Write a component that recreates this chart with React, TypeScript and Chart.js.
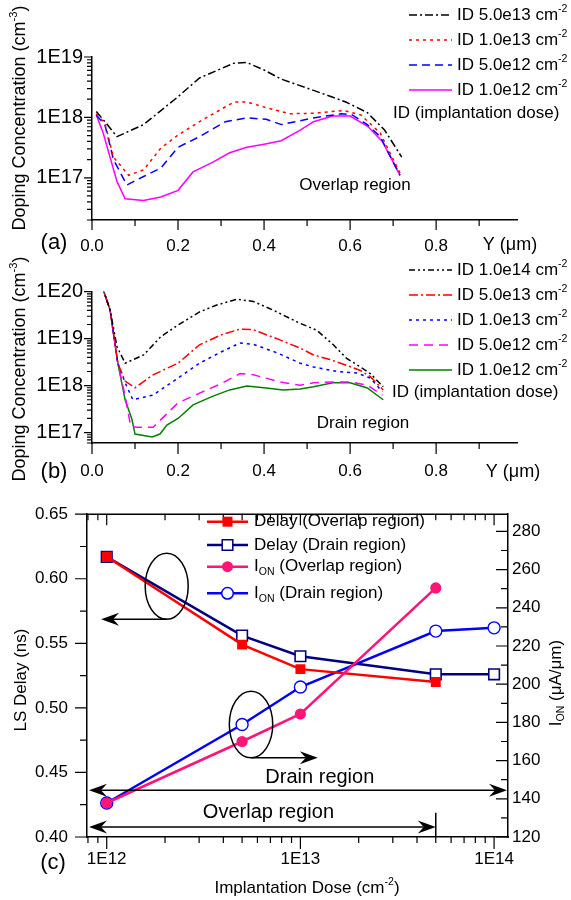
import React, { useEffect, useRef } from 'react';
import { Chart, registerables } from 'chart.js';

Chart.register(...registerables);

const FONT = '"Liberation Sans", Arial, Helvetica, sans-serif';

type Pt = [number, number];
type Part = { t: string; s?: 'sup' | 'sub' };
type Tk = { v: number; major: boolean };

// ---------------- Panel (a): overlap region doping profiles ----------------
const aNames = ['ID 5.0e13 cm', 'ID 1.0e13 cm', 'ID 5.0e12 cm', 'ID 1.0e12 cm'];
const aOverlap5e13: Pt[] = [
  [0.01, 1.25e18], [0.03, 8.5e17], [0.058, 4.8e17], [0.12, 7.6e17], [0.2, 2.2e18], [0.25, 4.5e18],
  [0.33, 7.9e18], [0.36, 8.1e18], [0.4, 6.1e18], [0.44, 4.3e18], [0.515, 2.8e18], [0.59, 1.8e18],
  [0.64, 1.2e18], [0.68, 6.2e17], [0.72, 2.2e17],
];
const aOverlap1e13: Pt[] = [
  [0.01, 1.15e18], [0.03, 7.9e17], [0.05, 2.2e17], [0.085, 1.1e17], [0.12, 1.35e17], [0.16, 3.1e17],
  [0.2, 5.1e17], [0.25, 8.5e17], [0.33, 1.8e18], [0.36, 1.8e18], [0.405, 1.45e18], [0.46, 1.15e18],
  [0.515, 1.17e18], [0.585, 1.3e18], [0.625, 1.1e18], [0.67, 5.5e17], [0.716, 1.2e17],
];
const aOverlap5e12: Pt[] = [
  [0.01, 1.1e18], [0.03, 7.5e17], [0.05, 2.0e17], [0.081, 7.6e16], [0.12, 1.05e17], [0.16, 1.45e17],
  [0.2, 3.2e17], [0.25, 4.8e17], [0.31, 8.5e17], [0.36, 9.8e17], [0.405, 9.3e17], [0.44, 7.6e17],
  [0.515, 9.8e17], [0.58, 1.15e18], [0.605, 1.1e18], [0.64, 7.6e17], [0.67, 4.8e17], [0.716, 1.1e17],
];
const aOverlap1e12: Pt[] = [
  [0.01, 1.1e18], [0.026, 5.5e17], [0.058, 8.7e16], [0.077, 4.5e16], [0.12, 4.2e16], [0.16, 4.8e16],
  [0.2, 6.2e16], [0.235, 1.25e17], [0.28, 1.8e17], [0.32, 2.6e17], [0.36, 3.2e17], [0.4, 3.6e17],
  [0.44, 4.1e17], [0.485, 6.2e17], [0.515, 8.5e17], [0.56, 1.05e18], [0.6, 1.05e18], [0.64, 7.2e17],
  [0.675, 4.0e17], [0.716, 1.1e17],
];
const aSeries = [aOverlap5e13, aOverlap1e13, aOverlap5e12, aOverlap1e12];
const aColors = ['#000000', '#FF0000', '#0000FF', '#FF00FF'];
const aDashes = [[8, 3, 2, 3], [3, 4], [8, 5], []];

// ---------------- Panel (b): drain region doping profiles ----------------
const bNames = ['ID 1.0e14 cm', 'ID 5.0e13 cm', 'ID 1.0e13 cm', 'ID 5.0e12 cm', 'ID 1.0e12 cm'];
const bDrain1e14: Pt[] = [
  [0.02, 1.6e20], [0.042, 4.1e19], [0.058, 6.8e18], [0.077, 3.0e18], [0.12, 4.5e18], [0.16, 1.1e19],
  [0.2, 1.95e19], [0.25, 3.7e19], [0.29, 5.2e19], [0.337, 6.9e19], [0.375, 6.2e19], [0.42, 4.1e19],
  [0.48, 2.2e19], [0.523, 1.5e19], [0.561, 7.4e18], [0.592, 3.8e18], [0.624, 2.5e18], [0.647, 1.8e18],
  [0.677, 9.5e17],
];
const bDrain5e13: Pt[] = [
  [0.02, 1.6e20], [0.042, 4.1e19], [0.06, 3.0e18], [0.077, 1.25e18], [0.1, 9.0e17], [0.142, 1.7e18],
  [0.2, 3.0e18], [0.25, 7.4e18], [0.3, 1.2e19], [0.344, 1.6e19], [0.375, 1.55e19], [0.437, 9.4e18],
  [0.484, 6.3e18], [0.515, 4.5e18], [0.553, 3.6e18], [0.592, 2.7e18], [0.624, 2.1e18], [0.647, 1.55e18],
  [0.677, 8.1e17],
];
const bDrain1e13: Pt[] = [
  [0.02, 1.6e20], [0.042, 4.1e19], [0.06, 3.0e18], [0.077, 1.15e18], [0.095, 5.0e17], [0.142, 6.3e17],
  [0.2, 1.45e18], [0.25, 3.0e18], [0.3, 5.2e18], [0.344, 8.1e18], [0.375, 7.6e18], [0.43, 5.0e18],
  [0.484, 3.0e18], [0.515, 2.5e18], [0.57, 2.0e18], [0.616, 1.85e18], [0.647, 1.45e18], [0.675, 7.4e17],
];
const bDrain5e12: Pt[] = [
  [0.02, 1.6e20], [0.042, 4.1e19], [0.06, 3.0e18], [0.077, 6.0e17], [0.09, 1.35e17], [0.104, 1.3e17],
  [0.142, 1.3e17], [0.2, 4.3e17], [0.25, 6.9e17], [0.3, 1.1e18], [0.344, 1.8e18], [0.375, 1.7e18],
  [0.437, 1.2e18], [0.484, 1.02e18], [0.515, 1.15e18], [0.57, 1.2e18], [0.6, 1.2e18], [0.64, 1.02e18],
  [0.675, 6.3e17],
];
const bDrain1e12: Pt[] = [
  [0.02, 1.6e20], [0.042, 4.1e19], [0.06, 3.0e18], [0.077, 5.0e17], [0.093, 1.9e17], [0.1, 9.3e16],
  [0.14, 8.1e16], [0.158, 9.3e16], [0.174, 1.45e17], [0.2, 2.0e17], [0.235, 3.9e17], [0.28, 5.9e17],
  [0.32, 8.1e17], [0.36, 9.8e17], [0.405, 8.9e17], [0.444, 8.1e17], [0.484, 8.5e17], [0.515, 9.5e17],
  [0.56, 1.15e18], [0.6, 1.15e18], [0.64, 8.9e17], [0.677, 5.0e17],
];
const bSeries = [bDrain1e14, bDrain5e13, bDrain1e13, bDrain5e12, bDrain1e12];
const bColors = ['#000000', '#FF0000', '#0000FF', '#FF00FF', '#008000'];
const bDashes = [[6, 3, 2, 3, 2, 3], [9, 3, 2, 3], [3, 4], [9, 6], []];

// ---------------- Panel (c): LS delay and I_ON vs implantation dose ----------------
const doseOverlap = [1e12, 5e12, 1e13, 5e13];
const doseDrain = [1e12, 5e12, 1e13, 5e13, 1e14];
const delayOverlap = [0.617, 0.549, 0.530, 0.520];
const delayDrain = [0.617, 0.556, 0.540, 0.526, 0.526];
const ionOverlap = [137.8, 170.0, 184.4, 250.4];
const ionDrain = [137.8, 178.9, 198.5, 227.8, 229.5];
const cColors = { delayOverlap: '#FF0000', delayDrain: '#000080', ionOverlap: '#FF1478', ionDrain: '#0000FF' };

// ---------------- helpers ----------------
function drawRich(ctx: CanvasRenderingContext2D, parts: Part[], x: number, y: number, size: number, align: 'left' | 'center' | 'right' = 'left') {
  const small = size * 0.62;
  const widths = parts.map((p) => {
    ctx.font = `${p.s ? small : size}px ${FONT}`;
    return ctx.measureText(p.t).width;
  });
  const total = widths.reduce((a, b) => a + b, 0);
  let cx = align === 'left' ? x : align === 'center' ? x - total / 2 : x - total;
  ctx.textAlign = 'left';
  ctx.textBaseline = 'middle';
  parts.forEach((p, i) => {
    ctx.font = `${p.s ? small : size}px ${FONT}`;
    const dy = p.s === 'sup' ? -size * 0.36 : p.s === 'sub' ? size * 0.32 : 0;
    ctx.fillText(p.t, cx, y + dy);
    cx += widths[i];
  });
}

function drawRotated(ctx: CanvasRenderingContext2D, parts: Part[], x: number, y: number, size: number) {
  ctx.save();
  ctx.translate(x, y);
  ctx.rotate(-Math.PI / 2);
  drawRich(ctx, parts, 0, 0, size, 'center');
  ctx.restore();
}

function logTickList(min: number, max: number): Tk[] {
  const out: Tk[] = [];
  for (let e = Math.floor(Math.log10(min)); e <= Math.ceil(Math.log10(max)); e++) {
    for (let m = 1; m <= 9; m++) {
      const v = m * Math.pow(10, e);
      if (v >= min * 0.9999 && v <= max * 1.0001) out.push({ v, major: m === 1 });
    }
  }
  return out;
}

function linTickList(min: number, max: number, step: number, majorEvery: number): Tk[] {
  const out: Tk[] = [];
  const n = Math.floor((max - min) / step + 1e-9);
  for (let i = 0; i <= n; i++) out.push({ v: min + i * step, major: i % majorEvery === 0 });
  return out;
}

function drawTicks(ctx: CanvasRenderingContext2D, chart: any, scaleId: string, list: Tk[], side: string, sign: number, maj: number, min: number) {
  const sc = chart.scales[scaleId];
  const a = chart.chartArea;
  ctx.beginPath();
  for (const t of list) {
    const p = sc.getPixelForValue(t.v);
    const len = (t.major ? maj : min) * sign;
    if (side === 'bottom' || side === 'top') {
      const y0 = side === 'bottom' ? a.bottom : a.top;
      ctx.moveTo(p, y0);
      ctx.lineTo(p, y0 + len);
    } else {
      const x0 = side === 'left' ? a.left : a.right;
      ctx.moveTo(x0, p);
      ctx.lineTo(x0 + len, p);
    }
  }
  ctx.stroke();
}

function legendLine(ctx: CanvasRenderingContext2D, x1: number, x2: number, y: number, color: string, dash: number[], width: number) {
  ctx.save();
  ctx.strokeStyle = color;
  ctx.lineWidth = width;
  ctx.setLineDash(dash);
  ctx.beginPath();
  ctx.moveTo(x1, y);
  ctx.lineTo(x2, y);
  ctx.stroke();
  ctx.restore();
}

function arrowHead(ctx: CanvasRenderingContext2D, tx: number, ty: number, dir: number) {
  const L = 18, W = 6.5, N = 12;
  ctx.beginPath();
  ctx.moveTo(tx, ty);
  ctx.lineTo(tx - dir * L, ty - W);
  ctx.lineTo(tx - dir * N, ty);
  ctx.lineTo(tx - dir * L, ty + W);
  ctx.closePath();
  ctx.fill();
}

function arrow(ctx: CanvasRenderingContext2D, x1: number, y: number, x2: number, both: boolean) {
  const dir = x2 > x1 ? 1 : -1;
  ctx.beginPath();
  ctx.moveTo(both ? x1 + dir * 12 : x1, y);
  ctx.lineTo(x2 - dir * 12, y);
  ctx.stroke();
  arrowHead(ctx, x2, y, dir);
  if (both) arrowHead(ctx, x1, y, -dir);
}

const expLabel = (v: any) => {
  const e = Math.log10(Number(v));
  const r = Math.round(e);
  return Math.abs(e - r) < 1e-6 ? '1E' + r : '';
};
const profileXLabel = (v: any) => {
  const t = Number(v) * 10;
  const r = Math.round(t);
  return Math.abs(t - r) < 1e-6 && r % 2 === 0 && r <= 8 ? (r / 10).toFixed(1) : '';
};
const ionLabel = (v: any) => {
  const n = Number(v);
  return Math.abs(n / 20 - Math.round(n / 20)) < 1e-6 ? String(Math.round(n)) : '';
};
const delayLabel = (v: any) => {
  const n = Number(v);
  return Math.abs(n / 0.05 - Math.round(n / 0.05)) < 1e-6 ? n.toFixed(2) : '';
};

const axisBorder = { display: true, color: '#000', width: 1.5 };
const noGrid = { display: false, drawTicks: false };
const dopingTitle: Part[] = [{ t: 'Doping Concentration (cm' }, { t: '-3', s: 'sup' }, { t: ')' }];
const yumTitle: Part[] = [{ t: 'Y (μm)' }];

function profileChart(canvas: HTMLCanvasElement, series: Pt[][], names: string[], colors: string[], dashes: number[][], yMin: number, yMax: number, padTop: number, xAxisH: number, xPad: number, decor: (chart: any) => void) {
  return new Chart(canvas, {
    type: 'line',
    data: {
      datasets: series.map((pts, i) => ({
        label: names[i],
        data: pts.map(([x, y]) => ({ x, y })),
        borderColor: colors[i],
        backgroundColor: colors[i],
        borderDash: dashes[i],
        borderWidth: 1.5,
        pointRadius: 0,
        tension: 0,
        fill: false,
      })),
    },
    options: {
      animation: false,
      responsive: false,
      devicePixelRatio: 1,
      events: [],
      layout: { padding: { left: 0, right: 54, top: padTop, bottom: 0 } },
      plugins: { legend: { display: false }, tooltip: { enabled: false } },
      scales: {
        x: {
          type: 'linear', min: 0, max: 0.988, bounds: 'data',
          afterFit: (s: any) => { s.height = xAxisH; },
          grid: noGrid, border: axisBorder,
          ticks: { stepSize: 0.1, includeBounds: false, autoSkip: false, maxRotation: 0, minRotation: 0, padding: xPad, color: '#000', font: { family: FONT, size: 17 }, callback: profileXLabel },
        },
        y: {
          type: 'logarithmic', min: yMin, max: yMax, bounds: 'data',
          afterFit: (s: any) => { s.width = 92; },
          grid: noGrid, border: axisBorder,
          ticks: { autoSkip: false, padding: 9, color: '#000', font: { family: FONT, size: 20 }, callback: expLabel },
        },
      },
    } as any,
    plugins: [{ id: 'decor', afterDraw: (chart: any) => decor(chart) }],
  });
}

function makeA(canvas: HTMLCanvasElement) {
  const OY = 0;
  const yMin = 2e16, yMax = 1e19;
  return profileChart(canvas, aSeries, aNames, aColors, aDashes, yMin, yMax, 57 - OY, 35, 16, (chart) => {
    const ctx = chart.ctx as CanvasRenderingContext2D;
    ctx.save();
    ctx.fillStyle = '#000';
    ctx.strokeStyle = '#000';
    ctx.lineWidth = 1.2;
    drawTicks(ctx, chart, 'x', linTickList(0, 0.988, 0.1, 2), 'bottom', 1, 10, 6);
    drawTicks(ctx, chart, 'y', logTickList(yMin, yMax), 'left', -1, 8, 5);
    drawRotated(ctx, dopingTitle, 20, 118 - OY, 18);
    drawRich(ctx, yumTitle, 510, 245 - OY, 18, 'center');
    drawRich(ctx, [{ t: '(a)' }], 54, 243 - OY, 22, 'center');
    const rows = [15, 40, 65, 90];
    rows.forEach((ry, i) => {
      legendLine(ctx, 409, 452, ry - OY, aColors[i], aDashes[i], 1.5);
      ctx.fillStyle = '#000';
      drawRich(ctx, [{ t: aNames[i] }, { t: '-2', s: 'sup' }], 457, ry - OY, 17, 'left');
    });
    drawRich(ctx, [{ t: 'ID (implantation dose)' }], 393, 113 - OY, 17, 'left');
    drawRich(ctx, [{ t: 'Overlap region' }], 355, 185 - OY, 17, 'center');
    ctx.restore();
  });
}

function makeB(canvas: HTMLCanvasElement) {
  const OY = 255;
  const yMin = 6e16, yMax = 1e20;
  return profileChart(canvas, bSeries, bNames, bColors, bDashes, yMin, yMax, 291.7 - OY, 42, 18, (chart) => {
    const ctx = chart.ctx as CanvasRenderingContext2D;
    ctx.save();
    ctx.fillStyle = '#000';
    ctx.strokeStyle = '#000';
    ctx.lineWidth = 1.2;
    drawTicks(ctx, chart, 'x', linTickList(0, 0.988, 0.1, 2), 'bottom', 1, 11, 6);
    drawTicks(ctx, chart, 'y', logTickList(yMin, yMax), 'left', -1, 8, 5);
    drawRotated(ctx, dopingTitle, 20, 369 - OY, 18);
    drawRich(ctx, yumTitle, 513, 472 - OY, 18, 'center');
    drawRich(ctx, [{ t: '(b)' }], 54, 472 - OY, 22, 'center');
    const rows = [270, 295, 320, 345, 370];
    rows.forEach((ry, i) => {
      legendLine(ctx, 409, 452, ry - OY, bColors[i], bDashes[i], 1.5);
      ctx.fillStyle = '#000';
      drawRich(ctx, [{ t: bNames[i] }, { t: '-2', s: 'sup' }], 457, ry - OY, 17, 'left');
    });
    drawRich(ctx, [{ t: 'ID (implantation dose)' }], 392, 392 - OY, 17, 'left');
    drawRich(ctx, [{ t: 'Drain region' }], 363, 423 - OY, 17, 'center');
    ctx.restore();
  });
}

function drawMarker(ctx: CanvasRenderingContext2D, kind: string, x: number, y: number, color: string, filled: boolean) {
  ctx.save();
  ctx.lineWidth = 1.5;
  ctx.strokeStyle = color;
  ctx.fillStyle = filled ? color : '#FFFFFF';
  ctx.beginPath();
  if (kind === 'rect') {
    const h = filled ? 5 : 5.3;
    ctx.rect(x - h, y - h, 2 * h, 2 * h);
  } else {
    ctx.arc(x, y, filled ? 5.5 : 5.8, 0, Math.PI * 2);
  }
  ctx.fill();
  if (!filled) ctx.stroke();
  ctx.restore();
}

function makeC(canvas: HTMLCanvasElement) {
  const OY = 485;
  const xMin = 7.91e11, xMax = 1.18e14;
  const dMin = 0.4, dMax = 0.65;
  const iMin = 120, iMax = 289;
  const legendItems = [
    { parts: [{ t: 'Delay (Overlap region)' }] as Part[], color: cColors.delayOverlap, kind: 'rect', filled: true },
    { parts: [{ t: 'Delay (Drain region)' }] as Part[], color: cColors.delayDrain, kind: 'rect', filled: false },
    { parts: [{ t: 'I' }, { t: 'ON', s: 'sub' }, { t: ' (Overlap region)' }] as Part[], color: cColors.ionOverlap, kind: 'circle', filled: true },
    { parts: [{ t: 'I' }, { t: 'ON', s: 'sub' }, { t: ' (Drain region)' }] as Part[], color: cColors.ionDrain, kind: 'circle', filled: false },
  ];
  const decor = (chart: any) => {
    const ctx = chart.ctx as CanvasRenderingContext2D;
    const a = chart.chartArea;
    const X = (v: number) => chart.scales.x.getPixelForValue(v);
    const YD = (v: number) => chart.scales.y.getPixelForValue(v);
    const YI = (v: number) => chart.scales.y2.getPixelForValue(v);
    ctx.save();
    ctx.fillStyle = '#000';
    ctx.strokeStyle = '#000';
    ctx.lineWidth = 1.5;
    ctx.beginPath();
    ctx.moveTo(a.left, a.top);
    ctx.lineTo(a.right, a.top);
    ctx.stroke();
    ctx.lineWidth = 1.2;
    const xt = logTickList(xMin, xMax);
    drawTicks(ctx, chart, 'x', xt, 'bottom', 1, 12, 6);
    drawTicks(ctx, chart, 'x', xt, 'top', 1, 11, 6);
    drawTicks(ctx, chart, 'y', linTickList(dMin, dMax, 0.025, 2), 'left', -1, 12, 7);
    drawTicks(ctx, chart, 'y2', linTickList(iMin, iMax, 10, 2), 'right', -1, 12, 7);

    // titles
    drawRotated(ctx, [{ t: 'LS Delay (ns)' }], 21, 680 - OY, 17);
    drawRotated(ctx, [{ t: 'I' }, { t: 'ON', s: 'sub' }, { t: ' (μA/μm)' }], 556, 683 - OY, 17);
    drawRich(ctx, [{ t: 'Implantation Dose (cm' }, { t: '-2', s: 'sup' }, { t: ')' }], 307, 888 - OY, 17, 'center');
    drawRich(ctx, [{ t: '(c)' }], 53, 863 - OY, 22, 'center');

    // legend
    const rows = [521.7, 545, 566.7, 593.3];
    legendItems.forEach((it, i) => {
      const ry = rows[i] - OY;
      legendLine(ctx, 207, 248, ry, it.color, [], 2.5);
      drawMarker(ctx, it.kind, 227.5, ry, it.color, it.filled);
      ctx.fillStyle = '#000';
      drawRich(ctx, it.parts, 254, ry, 17, 'left');
    });

    // annotations
    ctx.lineWidth = 1.5;
    ctx.strokeStyle = '#000';
    ctx.fillStyle = '#000';
    const e1x = X(2.04e12), e1y = YD(0.5942);
    ctx.beginPath();
    ctx.ellipse(e1x, e1y, 21.5, 33, 0, 0, Math.PI * 2);
    ctx.stroke();
    arrow(ctx, e1x, e1y + 33, X(9.35e11), false);
    const e2x = X(5.56e12), e2y = YI(178.9);
    ctx.beginPath();
    ctx.ellipse(e2x, e2y, 21.7, 33.3, 0, 0, Math.PI * 2);
    ctx.stroke();
    arrow(ctx, e2x, e2y + 33.3, X(1.23e13), false);

    const dy = YD(0.4362);
    arrow(ctx, a.left + 2, dy, a.right - 1, true);
    drawRich(ctx, [{ t: 'Drain region' }], X(1.26e13), YD(0.446), 20, 'center');
    const oy = YD(0.4077);
    arrow(ctx, a.left + 2, oy, X(5e13), true);
    ctx.beginPath();
    ctx.moveTo(X(5e13), YD(0.4188));
    ctx.lineTo(X(5e13), a.bottom);
    ctx.stroke();
    drawRich(ctx, [{ t: 'Overlap region' }], X(6.84e12), YD(0.4188), 20, 'center');
    ctx.restore();
  };

  return new Chart(canvas, {
    type: 'line',
    data: {
      datasets: [
        {
          label: 'Delay (Overlap region)', yAxisID: 'y',
          data: doseOverlap.map((x, i) => ({ x, y: delayOverlap[i] })),
          borderColor: cColors.delayOverlap, backgroundColor: cColors.delayOverlap, borderWidth: 2.5,
          pointStyle: 'rect', pointRadius: 7, pointBorderWidth: 0, pointBackgroundColor: cColors.delayOverlap,
          tension: 0, order: 2,
        },
        {
          label: 'Delay (Drain region)', yAxisID: 'y',
          data: doseDrain.map((x, i) => ({ x, y: delayDrain[i] })),
          borderColor: cColors.delayDrain, backgroundColor: '#FFFFFF', borderWidth: 2.5,
          pointStyle: 'rect', pointRadius: 7.5, pointBorderWidth: 1.6, pointBorderColor: cColors.delayDrain,
          pointBackgroundColor: '#FFFFFF', tension: 0, order: 4,
        },
        {
          label: 'ION (Overlap region)', yAxisID: 'y2',
          data: doseOverlap.map((x, i) => ({ x, y: ionOverlap[i] })),
          borderColor: cColors.ionOverlap, backgroundColor: cColors.ionOverlap, borderWidth: 2.5,
          pointStyle: 'circle', pointRadius: 5.6, pointBorderWidth: 0, pointBackgroundColor: cColors.ionOverlap,
          tension: 0, order: 1,
        },
        {
          label: 'ION (Drain region)', yAxisID: 'y2',
          data: doseDrain.map((x, i) => ({ x, y: ionDrain[i] })),
          borderColor: cColors.ionDrain, backgroundColor: '#FFFFFF', borderWidth: 2.5,
          pointStyle: 'circle', pointRadius: 6, pointBorderWidth: 1.4, pointBorderColor: cColors.ionDrain,
          pointBackgroundColor: '#FFFFFF', tension: 0, order: 3,
        },
      ],
    },
    options: {
      animation: false,
      responsive: false,
      devicePixelRatio: 1,
      events: [],
      layout: { padding: { left: 0, right: 0, top: 501 - OY, bottom: 0 } },
      plugins: { legend: { display: false }, tooltip: { enabled: false } },
      scales: {
        x: {
          type: 'logarithmic', min: xMin, max: xMax, bounds: 'data',
          afterFit: (s: any) => { s.height = 900 - 837; },
          grid: noGrid, border: axisBorder,
          ticks: { autoSkip: false, maxRotation: 0, minRotation: 0, padding: 12, color: '#000', font: { family: FONT, size: 17 }, callback: expLabel },
        },
        y: {
          type: 'linear', position: 'left', min: dMin, max: dMax, bounds: 'data',
          afterFit: (s: any) => { s.width = 87; },
          grid: noGrid, border: axisBorder,
          ticks: { stepSize: 0.05, includeBounds: false, autoSkip: false, padding: 19, color: '#000', font: { family: FONT, size: 17 }, callback: delayLabel },
        },
        y2: {
          type: 'linear', position: 'right', min: iMin, max: iMax, bounds: 'data',
          afterFit: (s: any) => { s.width = 571 - 508; },
          grid: noGrid, border: axisBorder,
          ticks: { stepSize: 20, includeBounds: false, autoSkip: false, padding: 4, color: '#000', font: { family: FONT, size: 17 }, callback: ionLabel },
        },
      },
    } as any,
    plugins: [{ id: 'decorC', afterDraw: decor }],
  });
}

function ChartCanvas({ top, height, make }: { top: number; height: number; make: (c: HTMLCanvasElement) => Chart }) {
  const ref = useRef<HTMLCanvasElement>(null);
  useEffect(() => {
    const chart = make(ref.current as HTMLCanvasElement);
    return () => chart.destroy();
  }, []);
  return (
    <canvas
      ref={ref}
      width={571}
      height={height}
      style={{ position: 'absolute', left: 0, top, width: 571, height, display: 'block' }}
    />
  );
}

export default function App() {
  return (
    <div style={{ position: 'absolute', left: 0, top: 0, width: 571, height: 900, background: '#FFFFFF', overflow: 'hidden' }}>
      <ChartCanvas top={0} height={255} make={makeA} />
      <ChartCanvas top={255} height={230} make={makeB} />
      <ChartCanvas top={485} height={415} make={makeC} />
    </div>
  );
}
